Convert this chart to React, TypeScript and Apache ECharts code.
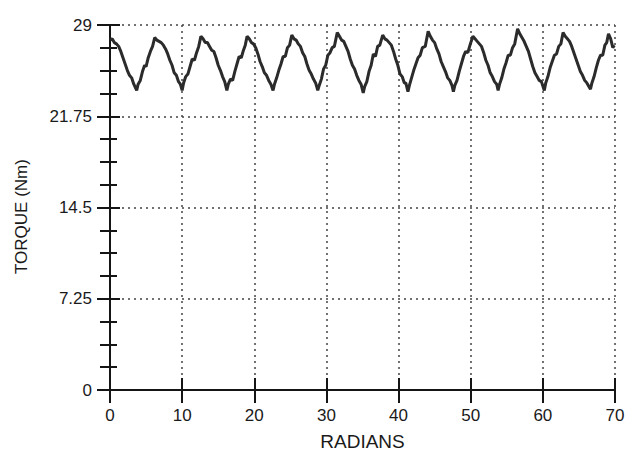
import React, { useEffect, useRef } from "react";
import * as echarts from "echarts";

const radians = [
  0.0, 0.3, 0.6, 0.9, 1.2, 1.5, 1.8, 2.1, 2.4, 2.7, 3.0, 3.3, 3.7,
  3.9, 4.2, 4.5, 4.8, 5.0, 5.3, 5.6, 5.9, 6.2, 6.5, 6.8, 7.1, 7.4, 7.7, 8.0, 8.3, 8.6, 8.9, 9.2, 9.5, 9.75, 10.0,
  10.2, 10.5, 10.8, 11.1, 11.4, 11.7, 12.0, 12.3, 12.6, 12.9, 13.2, 13.5, 13.8, 14.1, 14.4, 14.7, 15.0, 15.3, 15.6, 15.9, 16.2,
  16.4, 16.7, 17.0, 17.3, 17.6, 17.9, 18.2, 18.5, 18.75, 19.0, 19.3, 19.6, 19.9, 20.2, 20.5, 20.8, 21.1, 21.4, 21.7, 22.0, 22.3, 22.6,
  22.8, 23.1, 23.4, 23.7, 24.0, 24.3, 24.6, 24.9, 25.2, 25.5, 25.8, 26.1, 26.4, 26.7, 27.0, 27.3, 27.6, 27.9, 28.2, 28.5, 28.8,
  29.0, 29.3, 29.6, 29.9, 30.2, 30.5, 30.8, 31.1, 31.5, 31.8, 32.1, 32.4, 32.7, 33.0, 33.3, 33.6, 33.9, 34.2, 34.5, 34.8, 35.1,
  35.3, 35.6, 35.9, 36.2, 36.5, 36.8, 37.1, 37.4, 37.8, 38.1, 38.4, 38.7, 39.0, 39.3, 39.6, 39.9, 40.2, 40.5, 40.8, 41.0, 41.3,
  41.5, 41.8, 42.1, 42.4, 42.7, 43.0, 43.3, 43.7, 44.1, 44.4, 44.7, 45.0, 45.3, 45.6, 45.9, 46.2, 46.5, 46.8, 47.1, 47.4, 47.6,
  47.8, 48.1, 48.4, 48.7, 49.0, 49.3, 49.6, 49.9, 50.3, 50.6, 50.9, 51.2, 51.5, 51.8, 52.1, 52.4, 52.7, 53.0, 53.3, 53.6, 53.8,
  54.0, 54.3, 54.6, 54.9, 55.2, 55.5, 55.8, 56.1, 56.5, 56.8, 57.1, 57.4, 57.7, 58.0, 58.3, 58.6, 58.9, 59.2, 59.5, 59.8, 60.2,
  60.4, 60.7, 61.0, 61.3, 61.6, 61.9, 62.2, 62.5, 62.8, 63.1, 63.4, 63.7, 64.0, 64.3, 64.6, 64.9, 65.2, 65.5, 65.8, 66.1, 66.6,
  66.8, 67.1, 67.4, 67.7, 68.0, 68.3, 68.6, 68.85, 69.1, 69.4, 69.7, 69.9,
];

const torque = [
  27.8, 27.9, 27.6, 27.5, 27.3, 26.9, 26.4, 25.9, 25.4, 25.0, 24.8, 24.3, 23.8,
  24.3, 24.6, 25.3, 25.8, 25.7, 26.4, 26.9, 27.3, 28.0, 27.8, 27.7, 27.6, 27.4, 27.1, 26.7, 26.2, 25.8, 25.2, 25.0, 24.5, 24.3, 23.8,
  24.4, 24.9, 25.1, 25.7, 26.3, 26.2, 26.8, 27.3, 28.1, 27.9, 27.6, 27.6, 27.3, 27.0, 26.9, 26.4, 25.8, 25.4, 24.9, 24.5, 23.8,
  24.3, 24.7, 24.6, 25.3, 25.9, 26.5, 26.4, 27.0, 27.4, 28.1, 27.9, 27.6, 27.5, 27.2, 26.7, 26.1, 25.7, 25.2, 25.0, 24.6, 24.3, 23.8,
  24.3, 24.8, 25.4, 25.9, 26.5, 26.5, 27.2, 27.4, 28.2, 27.9, 27.8, 27.5, 27.3, 26.8, 26.5, 25.9, 25.4, 25.1, 24.7, 24.4, 23.8,
  24.2, 24.7, 25.5, 25.8, 26.6, 26.8, 27.2, 27.3, 28.4, 28.1, 27.8, 27.7, 27.3, 26.9, 26.3, 25.8, 25.5, 25.0, 24.6, 24.3, 23.6,
  24.1, 24.5, 25.3, 25.8, 26.7, 26.5, 27.3, 27.4, 28.2, 27.9, 27.8, 27.6, 27.4, 26.9, 26.3, 25.8, 25.1, 24.9, 24.4, 24.4, 23.7,
  24.2, 24.8, 25.4, 25.9, 26.4, 26.6, 27.2, 27.3, 28.5, 28.1, 27.8, 27.6, 27.1, 26.7, 26.1, 25.7, 25.3, 24.8, 24.6, 24.2, 23.7,
  24.2, 24.6, 25.3, 25.9, 26.5, 26.9, 26.8, 27.4, 28.1, 27.9, 27.7, 27.5, 27.3, 26.8, 26.2, 25.8, 25.2, 24.9, 24.5, 24.3, 23.8,
  24.3, 24.8, 25.5, 26.0, 26.6, 26.6, 27.2, 27.5, 28.7, 28.3, 28.0, 27.7, 27.3, 26.9, 26.3, 25.7, 25.2, 24.9, 24.6, 24.5, 23.8,
  24.4, 24.9, 25.6, 26.1, 26.6, 26.7, 27.3, 27.5, 28.4, 28.1, 27.9, 27.7, 27.3, 26.8, 26.3, 25.8, 25.3, 25.0, 24.6, 24.4, 23.9,
  24.4, 24.9, 25.6, 26.2, 26.6, 26.6, 27.4, 27.6, 28.3, 27.9, 27.2, 27.4,
];

const xTicks = { min: 0, max: 70, interval: 10 };
const yTicks = { min: 0, max: 29, interval: 7.25 };

const INK = "#151515";
const FONT = "'Liberation Sans', Arial, sans-serif";

export default function App() {
  const ref = useRef<HTMLDivElement>(null);

  useEffect(() => {
    if (!ref.current) return;
    const chart = echarts.init(ref.current, undefined, { renderer: "svg" });

    const tickStyle = { color: INK, width: 2 };
    const hidden = {
      axisLine: { show: false },
      axisLabel: { show: false },
      splitLine: { show: false },
    };

    const xBase = { type: "value" as const, ...xTicks };
    const yBase = { type: "value" as const, ...yTicks };

    const option: any = {
      animation: false,
      backgroundColor: "#ffffff",
      grid: { left: 110, right: 14, top: 25, bottom: 59, containLabel: false },
      xAxis: [
        {
          ...xBase,
          position: "bottom",
          axisLine: { show: true, lineStyle: { color: INK, width: 2 } },
          axisTick: { show: true, inside: false, length: 13, lineStyle: tickStyle },
          axisLabel: { show: true, margin: 17, fontSize: 17, color: "#1a1a1a", fontFamily: FONT },
          splitLine: { show: true, lineStyle: { type: [2, 4], color: "#444", width: 1.5 } },
          name: "RADIANS",
          nameLocation: "middle",
          nameGap: 42,
          nameTextStyle: { fontSize: 19, color: "#1a1a1a", fontFamily: FONT },
        },
        {
          ...xBase,
          position: "bottom",
          ...hidden,
          axisTick: { show: true, inside: true, length: 8, lineStyle: tickStyle },
        },
        {
          ...xBase,
          position: "top",
          ...hidden,
          axisTick: { show: true, inside: false, length: 12, lineStyle: tickStyle },
        },
        {
          ...xBase,
          position: "top",
          ...hidden,
          axisTick: { show: true, inside: true, length: 13, lineStyle: tickStyle },
        },
      ],
      yAxis: [
        {
          ...yBase,
          position: "left",
          axisLine: { show: true, lineStyle: { color: INK, width: 2 } },
          axisTick: { show: true, inside: false, length: 13, lineStyle: tickStyle },
          axisLabel: { show: true, margin: 18, fontSize: 17, color: "#1a1a1a", fontFamily: FONT },
          splitLine: { show: true, lineStyle: { type: [2, 4], color: "#444", width: 1.5 } },
          name: "TORQUE (Nm)",
          nameLocation: "middle",
          nameGap: 80,
          nameTextStyle: { fontSize: 17, color: "#1a1a1a", fontFamily: FONT, padding: [0, 18, 0, 0] },
        },
        {
          ...yBase,
          position: "left",
          ...hidden,
          axisTick: { show: true, inside: true, length: 7, lineStyle: tickStyle },
          minorTick: { show: true, splitNumber: 4, length: 7, lineStyle: tickStyle },
        },
        {
          ...yBase,
          position: "right",
          ...hidden,
          axisLine: { show: true, lineStyle: { color: INK, width: 2 } },
          axisTick: { show: true, inside: false, length: 10, lineStyle: tickStyle },
        },
        {
          ...yBase,
          position: "right",
          ...hidden,
          axisTick: { show: true, inside: true, length: 12, lineStyle: tickStyle },
          minorTick: { show: true, splitNumber: 4, length: 10, lineStyle: tickStyle },
        },
      ],
      series: [
        {
          type: "line",
          xAxisIndex: 0,
          yAxisIndex: 0,
          data: radians.map((r, i) => [r, torque[i]]),
          showSymbol: false,
          symbol: "none",
          lineStyle: { color: "#2b2b2b", width: 3 },
          z: 5,
        },
      ],
    };

    chart.setOption(option);
    return () => chart.dispose();
  }, []);

  return (
    <div
      ref={ref}
      style={{ position: "fixed", left: 0, top: 0, width: 629, height: 456 }}
    />
  );
}
